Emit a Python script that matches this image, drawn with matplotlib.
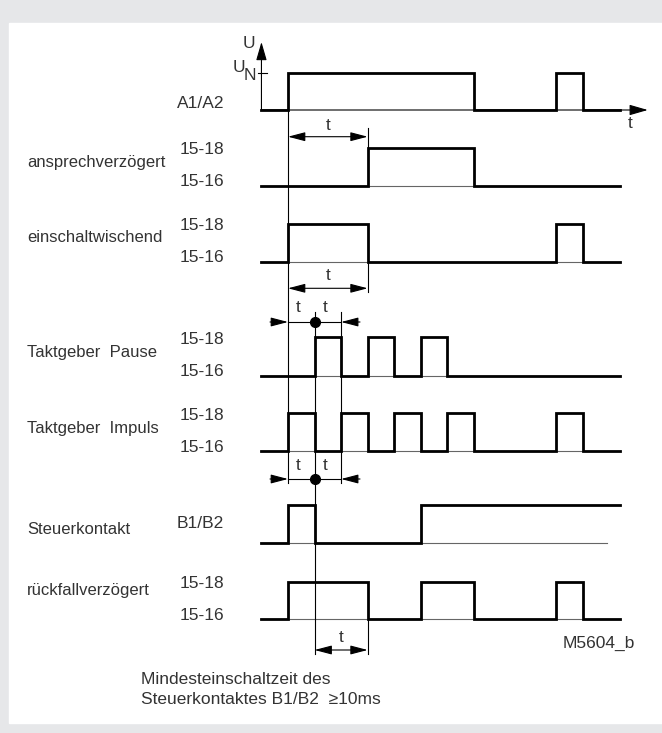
import matplotlib.pyplot as plt
from matplotlib.patches import Rectangle

plt.rcParams['font.family'] = ['Liberation Sans', 'DejaVu Sans']

# switching times (unit = t/3) and the level held until the next switch
a1a2_times = [-1, 0, 7, 10.1, 11.1, 12.5]
a1a2_levels = [0, 1, 0, 1, 0]
ansprech_times = [-1, 3, 7, 12.5]
ansprech_levels = [0, 1, 0]
einschalt_times = [-1, 0, 3, 10.1, 11.1, 12.5]
einschalt_levels = [0, 1, 0, 1, 0]
pause_times = [-1, 1, 2, 3, 4, 5, 6, 12.5]
pause_levels = [0, 1, 0, 1, 0, 1, 0]
impuls_times = [-1, 0, 1, 2, 3, 4, 5, 6, 7, 10.1, 11.1, 12.5]
impuls_levels = [0, 1, 0, 1, 0, 1, 0, 1, 0, 1, 0]
steuer_times = [-1, 0, 1, 5, 12.5]
steuer_levels = [0, 1, 0, 1]
rueck_times = [-1, 0, 3, 5, 7, 10.1, 11.1, 12.5]
rueck_levels = [0, 1, 0, 1, 0, 1, 0]

row_names = ["", "ansprechverzögert", "einschaltwischend", "Taktgeber  Pause",
             "Taktgeber  Impuls", "Steuerkontakt", "rückfallverzögert"]
row_times = [a1a2_times, ansprech_times, einschalt_times, pause_times,
             impuls_times, steuer_times, rueck_times]
row_levels = [a1a2_levels, ansprech_levels, einschalt_levels, pause_levels,
              impuls_levels, steuer_levels, rueck_levels]

# layout (pixel rows): low / high line of each trace, y of the name
row_low = [110, 186, 262, 376, 451, 543, 619]
row_high = [72.7, 148, 224, 337, 413, 505, 582]
name_y = [0, 163, 237, 353, 428, 529, 591]

X0, U = 288, 26.55


def px(x):
    return (x - X0) / U


fig = plt.figure(figsize=(6.62, 7.33), dpi=100, facecolor='#e6e7e9')
fig.add_artist(Rectangle((9 / 662, 1 - 723 / 733), 653 / 662, 700 / 733,
                         transform=fig.transFigure, color='white', zorder=-1))
ax = fig.add_axes([0, 0, 1, 1])
ax.set_xlim(px(0), px(662))
ax.set_ylim(733, 0)
ax.axis('off')

txt = dict(color='#333333', fontsize=12.5, va='center')
small = dict(color='#333333', fontsize=12, va='center')
thin = dict(color='black', lw=0.8)

for i in range(len(row_times)):
    tt = row_times[i]
    lv = row_levels[i] + [row_levels[i][-1]]
    lo, hi = row_low[i], row_high[i]
    yy = [lo + (hi - lo) * v for v in lv]
    if i > 0:
        end = 12.0 if i == 5 else tt[-1]
        ax.plot([tt[0], end], [lo, lo], color='#666666', lw=0.8, zorder=2)
    ax.plot(tt, yy, drawstyle='steps-post', color='black', lw=2.0,
            solid_joinstyle='miter', zorder=3)
    if row_names[i]:
        ax.text(px(27), name_y[i], row_names[i], ha='left', **small)
    if i == 5:
        ax.text(px(224), 523, "B1/B2", ha='right', **txt)
    elif i > 0:
        ax.text(px(224), hi + 2, "15-18", ha='right', **txt)
        ax.text(px(224), lo - 4, "15-16", ha='right', **txt)

# A1/A2 axes
ax.text(px(224), 103, "A1/A2", ha='right', **txt)
ax.annotate('', xy=(-1, 42), xytext=(-1, 110),
            arrowprops=dict(arrowstyle='-|>,head_length=0.45,head_width=0.13',
                            mutation_scale=25, shrinkA=0, shrinkB=0, **thin))
ax.annotate('', xy=(13.55, 110), xytext=(-1, 110),
            arrowprops=dict(arrowstyle='-|>,head_length=0.45,head_width=0.13',
                            mutation_scale=25, shrinkA=0, shrinkB=0, **thin))
ax.plot([px(258), px(267)], [72.7, 72.7], **thin)
ax.text(px(249), 44, "U", ha='center', **txt)
ax.text(px(239), 67, "U", ha='center', **txt)
ax.text(px(250), 76, "N", ha='center', **txt)
ax.text(px(630), 123, "t", ha='center', **txt)

# guide lines
ax.plot([0, 0], [110, 483], **thin)
ax.plot([3, 3], [128, 148], **thin)
ax.plot([3, 3], [262, 292], **thin)
ax.plot([1, 1], [312, 654], **thin)
ax.plot([2, 2], [312, 483], **thin)
ax.plot([3, 3], [619, 654], **thin)

dbl = dict(arrowstyle='<|-|>,head_length=0.42,head_width=0.11',
           mutation_scale=25, shrinkA=0, shrinkB=0, **thin)
one = dict(arrowstyle='-|>,head_length=0.42,head_width=0.11',
           mutation_scale=25, shrinkA=0, shrinkB=0, **thin)

for a, b, y, ly in [(0, 3, 136.7, 125), (0, 3, 288.3, 275), (1, 3, 650, 638)]:
    ax.annotate('', xy=(b, y), xytext=(a, y), arrowprops=dbl)
    ax.text((a + b) / 2, ly, "t", ha='center', **txt)

for y, ly in [(322, 308), (479, 466)]:
    ax.annotate('', xy=(0, y), xytext=(px(270), y), arrowprops=one)
    ax.annotate('', xy=(2, y), xytext=(px(360), y), arrowprops=one)
    ax.plot([0, 2], [y, y], **thin)
    ax.plot([1], [y], 'o', color='black', ms=7, zorder=4)
    ax.text(px(298), ly, "t", ha='center', **txt)
    ax.text(px(325), ly, "t", ha='center', **txt)

ax.text(px(635), 643, "M5604_b", ha='right', **txt)
ax.text(px(141), 680, "Mindesteinschaltzeit des", ha='left', **txt)
ax.text(px(141), 700, "Steuerkontaktes B1/B2  ≥10ms", ha='left', **txt)

fig.savefig('out.png', dpi=100, facecolor=fig.get_facecolor())
